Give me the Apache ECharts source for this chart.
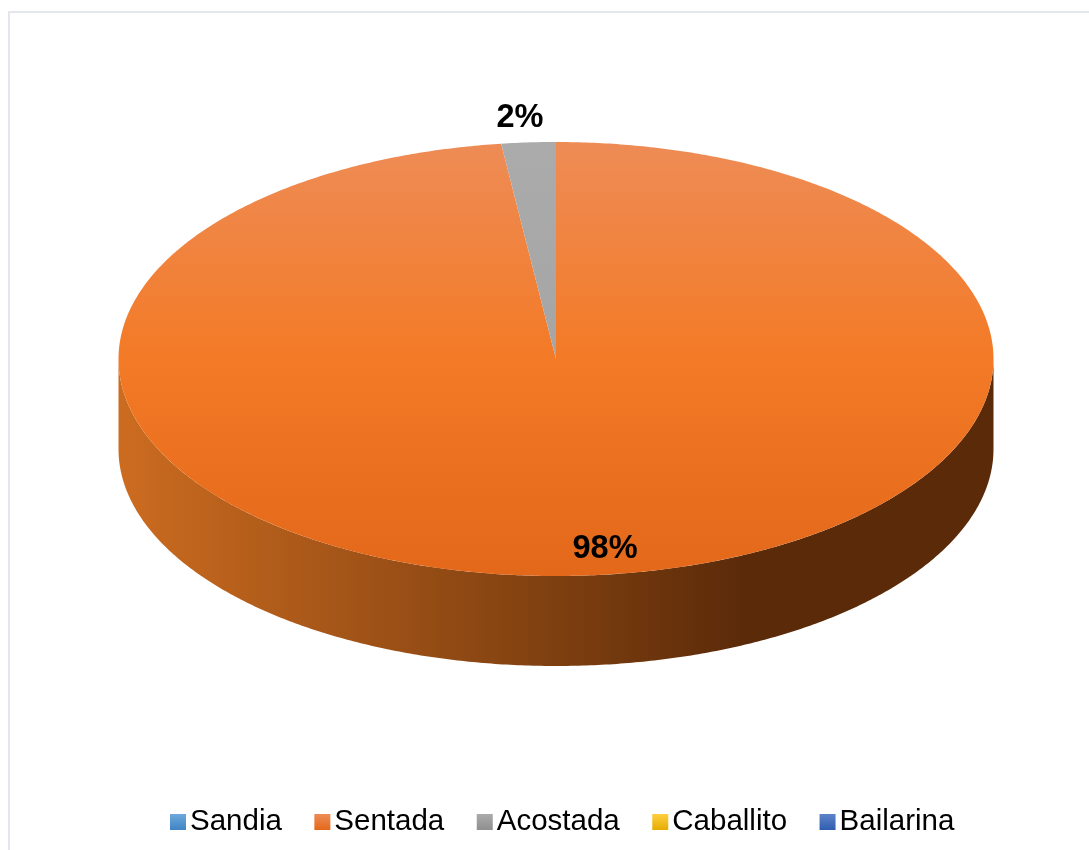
<!DOCTYPE html>
<html>
<head>
<meta charset="utf-8">
<style>html,body{margin:0;padding:0;background:#fff}#chart{width:1089px;height:850px}</style>
<script src="https://cdn.jsdelivr.net/npm/echarts@6/dist/echarts.min.js"></script>
</head>
<body>
<div id="chart"></div>
<script>
// Pie categories and their shares, in drawing order clockwise from twelve o'clock
const categories = ['Sandia', 'Sentada', 'Acostada', 'Caballito', 'Bailarina'];
const shares = [0, 98, 2, 0, 0];

// Top-face and legend tones per category
const topStops = [
  ['#6FA8DC', '#5B9BD5', '#3F84C4'],
  ['#EE8C56', '#F37A26', '#E3681A'],
  ['#ABABAB', '#A5A5A5', '#8F8F8F'],
  ['#FFCF3F', '#FFC000', '#E5AC00'],
  ['#5F83C9', '#4472C4', '#2F5DB0']
];
const rimStops = [
  ['#4A7FB0', '#1F3D5C'],
  ['#CC6C20', '#5A2A09'],
  ['#888888', '#444444'],
  ['#CC9A00', '#664D00'],
  ['#3A62A8', '#1C3260']
];

// Disc geometry in pixels
const disc = { cx: 556, cy: 359, rx: 437.5, ry: 217, depth: 90 };
// Where each visible percentage is written
const labelAnchors = { Sentada: [605, 549], Acostada: [520, 118] };

const total = shares.reduce((a, b) => a + b, 0);
const gradient = (x, y, x2, y2, stops) =>
  new echarts.graphic.LinearGradient(x, y, x2, y2, stops, true);

// Point on the top ellipse, angle measured clockwise from the top
const onEllipse = (a, dy) => [
  disc.cx + disc.rx * Math.sin(a),
  disc.cy - disc.ry * Math.cos(a) + (dy || 0)
];

function arcPoints(from, to, dy) {
  const n = Math.max(2, Math.ceil(Math.abs(to - from) / (Math.PI / 360)));
  const out = [];
  for (let i = 0; i <= n; i++) out.push(onEllipse(from + (to - from) * i / n, dy));
  return out;
}

function renderSlice(index) {
  return function (params, api) {
    const value = api.value(0);
    if (!value) return null;
    const before = shares.slice(0, index).reduce((a, b) => a + b, 0);
    const start = before / total * Math.PI * 2;
    const end = (before + value) / total * Math.PI * 2;
    const left = disc.cx - disc.rx, right = disc.cx + disc.rx;
    const children = [];

    // Rim: only the part of the slice on the near half of the disc is visible
    const rimFrom = Math.max(start, Math.PI / 2);
    const rimTo = Math.min(end, Math.PI * 1.5);
    if (rimTo > rimFrom) {
      const rim = rimStops[index];
      children.push({
        type: 'polygon',
        shape: { points: arcPoints(rimFrom, rimTo, 0).concat(arcPoints(rimTo, rimFrom, disc.depth)) },
        style: {
          fill: gradient(right, 0, left, 0, [
            { offset: 0, color: rim[1] },
            { offset: 0.28, color: rim[1] },
            { offset: 0.5, color: echarts.color.lerp(0.32, [rim[1], rim[0]]) },
            { offset: 1, color: rim[0] }
          ])
        }
      });
    }

    // Top face
    const face = topStops[index];
    children.push({
      type: 'polygon',
      shape: { points: [[disc.cx, disc.cy]].concat(arcPoints(start, end, 0)) },
      style: {
        fill: gradient(0, disc.cy - disc.ry, 0, disc.cy + disc.ry, [
          { offset: 0, color: face[0] },
          { offset: 0.5, color: face[1] },
          { offset: 1, color: face[2] }
        ])
      }
    });

    // Percentage label
    const anchor = labelAnchors[categories[index]];
    if (anchor) {
      children.push({
        type: 'text',
        z2: 10,
        style: {
          x: anchor[0], y: anchor[1],
          text: Math.round(value / total * 100) + '%',
          fill: '#000',
          font: 'bold 32.5px "Liberation Sans", Arial, sans-serif',
          align: 'center', verticalAlign: 'middle'
        }
      });
    }
    return { type: 'group', children };
  };
}

const chart = echarts.init(document.getElementById('chart'), null, { renderer: 'canvas' });
chart.setOption({
  animation: false,
  backgroundColor: '#ffffff',
  legend: {
    left: 170,
    top: 807,
    padding: 0,
    itemWidth: 16,
    itemHeight: 16,
    itemGap: 32.5,
    icon: 'rect',
    selectedMode: false,
    textStyle: { color: '#000', fontSize: 29.5, fontFamily: '"Liberation Sans", Arial, sans-serif', padding: [0, 0, 0, -1] },
    data: categories.map((name, i) => ({
      name,
      itemStyle: {
        color: new echarts.graphic.LinearGradient(0, 0, 0, 1, [
          { offset: 0, color: topStops[i][0] },
          { offset: 1, color: topStops[i][2] }
        ])
      }
    }))
  },
  graphic: [{
    type: 'rect',
    silent: true,
    shape: { x: 9, y: 12, width: 1200, height: 1000 },
    style: { fill: 'none', stroke: '#E3E7EB', lineWidth: 2 }
  }],
  series: categories.map((name, i) => ({
    type: 'custom',
    name,
    coordinateSystem: 'none',
    silent: true,
    itemStyle: { color: topStops[i][1] },
    data: [[shares[i]]],
    renderItem: renderSlice(i)
  }))
});
</script>
</body>
</html>
